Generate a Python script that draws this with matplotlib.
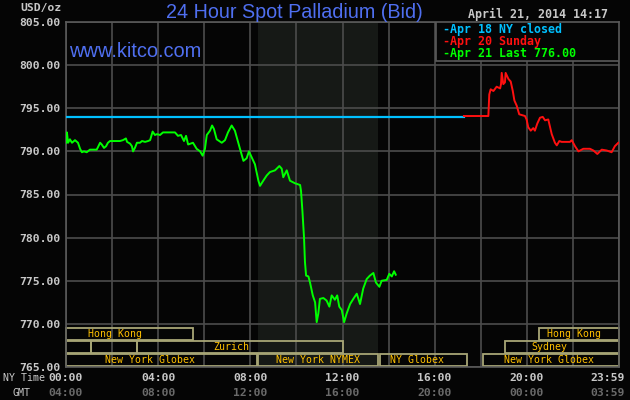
import matplotlib
matplotlib.use('Agg')
import matplotlib.pyplot as plt
import matplotlib.transforms as mtransforms
from matplotlib.patches import Rectangle

# ---------------- data ----------------
# previous close (Apr 18 NY closed)
close_value = 794.0
close_end_h = 17.27

# Apr 20 Sunday (red) : hours (NY time), price
red_h = [17.27, 18.33, 18.37, 18.43, 18.55, 18.69, 18.84, 18.88, 18.91, 18.98,
         19.05, 19.08, 19.20, 19.30, 19.39, 19.46, 19.56, 19.67, 19.92, 19.99,
         20.06, 20.17, 20.28, 20.35, 20.45, 20.57, 20.69, 20.79, 20.93, 21.08,
         21.22, 21.30, 21.41, 21.51, 21.87, 21.95, 22.09, 22.24, 22.45, 22.74,
         22.89, 23.06, 23.25, 23.47, 23.68, 23.82, 23.97]
red_v = [794.1, 794.1, 796.6, 797.2, 797.0, 797.5, 797.3, 797.8, 799.1, 797.8,
         798.0, 799.1, 798.4, 798.1, 797.0, 795.9, 795.3, 794.3, 794.1, 793.7,
         792.8, 792.4, 792.7, 792.4, 793.2, 793.9, 794.0, 793.6, 793.7, 792.0,
         791.0, 790.7, 791.2, 791.1, 791.1, 791.3, 790.6, 790.0, 790.3, 790.3,
         790.1, 789.7, 790.2, 790.1, 789.9, 790.6, 791.0]

# Apr 21 (green)
green_h = [0.01, 0.04, 0.09, 0.17, 0.26, 0.39, 0.52, 0.61, 0.69, 0.78,
           0.90, 1.04, 1.33, 1.39, 1.48, 1.55, 1.65, 1.74, 1.82, 1.91,
           2.34, 2.47, 2.60, 2.65, 2.78, 2.86, 2.91, 2.99, 3.08, 3.21,
           3.30, 3.43, 3.56, 3.65, 3.76, 3.86, 3.95, 4.08, 4.21, 4.73,
           4.86, 4.99, 5.12, 5.21, 5.30, 5.51, 5.67, 5.82, 5.93, 6.03,
           6.11, 6.25, 6.34, 6.42, 6.54, 6.76, 6.90, 7.03, 7.19, 7.33,
           7.55, 7.70, 7.84, 7.94, 8.06, 8.20, 8.35, 8.42, 8.56, 8.71,
           8.85, 9.07, 9.26, 9.36, 9.43, 9.58, 9.72, 9.94, 10.16, 10.20,
           10.26, 10.33, 10.37, 10.42, 10.52, 10.59, 10.71, 10.81, 10.88, 10.95,
           11.02, 11.17, 11.31, 11.43, 11.53, 11.67, 11.77, 11.86, 11.97, 12.07,
           12.18, 12.33, 12.47, 12.62, 12.76, 12.90, 13.05, 13.19, 13.34, 13.45,
           13.60, 13.70, 13.92, 14.03, 14.14, 14.24, 14.31]
green_v = [791.0, 792.2, 791.0, 791.4, 791.0, 791.3, 791.0, 790.3, 789.9, 790.0,
           789.9, 790.2, 790.2, 790.5, 791.0, 790.8, 790.4, 790.6, 791.0, 791.2,
           791.2, 791.3, 791.5, 791.1, 790.9, 790.6, 790.0, 790.4, 791.0, 791.0,
           791.2, 791.1, 791.2, 791.3, 792.3, 791.9, 792.0, 791.9, 792.2, 792.2,
           791.8, 791.9, 791.2, 791.8, 790.8, 791.0, 790.3, 790.0, 789.5, 790.3,
           791.9, 792.4, 793.0, 792.6, 791.4, 791.0, 791.3, 792.2, 793.0, 792.4,
           790.3, 788.9, 789.2, 790.0, 789.3, 788.5, 786.6, 786.0, 786.6, 787.2,
           787.6, 787.8, 788.3, 788.0, 787.0, 787.8, 786.6, 786.3, 786.1, 785.4,
           783.1, 780.0, 777.2, 775.6, 775.5, 774.8, 773.3, 772.5, 770.2, 771.2,
           772.9, 773.0, 772.7, 772.0, 773.3, 772.8, 773.3, 772.0, 771.6, 770.2,
           771.2, 772.3, 772.9, 773.5, 772.3, 774.1, 775.2, 775.6, 775.9, 774.8,
           774.3, 775.0, 775.1, 775.8, 775.5, 776.1, 775.7]

# NYMEX shaded period
nymex_start, nymex_end = 8.33, 13.55

# market sessions (row 0 = top)
sess_row   = [0, 0, 1, 1, 1, 1, 2, 2, 2, 2]
sess_start = [0.0, 20.54, 0.0, 1.07, 3.07, 19.05, 0.0, 8.35, 13.63, 18.08]
sess_end   = [5.52, 24.0, 1.07, 3.07, 12.01, 24.0, 8.30, 13.54, 17.39, 24.0]
sess_label = ["Hong Kong", "Hong Kong", "", "", "Zurich", "Sydney",
              "New York Globex", "New York NYMEX", "NY Globex", "New York Globex"]
sess_label_h = [2.13, 22.05, None, None, 7.16, 20.96, 3.65, 10.92, 15.22, 20.98]

y_ticks = [765, 770, 775, 780, 785, 790, 795, 800, 805]
x_ticks = [0, 4, 8, 12, 16, 20, 24]
ny_labels = ["00:00", "04:00", "08:00", "12:00", "16:00", "20:00", "23:59"]
gmt_labels = ["04:00", "08:00", "12:00", "16:00", "20:00", "00:00", "03:59"]

legend_labels = ["-Apr 18 NY closed", "-Apr 20 Sunday", "-Apr 21 Last 776.00"]
legend_colors = ["#00c0ff", "#ff1010", "#00ff00"]

# ---------------- style ----------------
W, H = 630, 400
BG = '#050505'
GRID = '#4c4c4c'
MONO = 'DejaVu Sans Mono'

fig = plt.figure(figsize=(W / 100, H / 100), dpi=100, facecolor=BG)
ax = fig.add_axes([66 / W, 33 / H, 553 / W, 345 / H], facecolor=BG)
ax.set_xlim(0, 24)
ax.set_ylim(765, 805)

def px(x, y):
    return x / W, 1 - y / H

# shading
ax.axvspan(nymex_start, nymex_end, color='#161916', zorder=0, lw=0)

# grid
ax.set_xticks(range(0, 25, 2))
ax.set_yticks(y_ticks)
ax.grid(True, color=GRID, lw=1.2, zorder=1)
ax.tick_params(length=0)
ax.set_xticklabels([])
ax.set_yticklabels([f"{v:.2f}" for v in y_ticks], family=MONO, fontweight='bold',
                   fontsize=8.2, color='#c8c8c8')
ax.tick_params(axis='y', pad=4)
for s in ax.spines.values():
    s.set_color('#5a5a5a')
    s.set_linewidth(1.2)

# legend box
ax.add_patch(Rectangle((0.669, 0.888), 0.331, 0.112, transform=ax.transAxes,
                       facecolor=BG, edgecolor='#5a5a5a', lw=1.2, zorder=3))

# lines
ax.plot([0, close_end_h], [close_value, close_value], color='#00c0ff', lw=1.6, zorder=4)
ax.plot(red_h, red_v, color='#ff1010', lw=1.4, zorder=4)
ax.plot(green_h, green_v, color='#00ff00', lw=1.4, zorder=4)

# sessions
row_bottom = [0.0774, 0.0406, 0.002]
row_height = [0.0356, 0.0339, 0.0366]
xtrans = ax.get_xaxis_transform()
for r, s0, s1, lab, lh in zip(sess_row, sess_start, sess_end, sess_label, sess_label_h):
    ax.add_patch(Rectangle((s0, row_bottom[r]), s1 - s0, row_height[r], transform=xtrans,
                           facecolor='none', edgecolor='#a8a676', lw=1.3, zorder=2,
                           clip_on=False))
    if lab:
        ax.text(lh, row_bottom[r] + row_height[r] / 2, lab, transform=xtrans,
                ha='center', va='center', family=MONO, fontsize=7.1,
                color='#ffc000', zorder=5)

# x labels
for h, l1, l2 in zip(x_ticks, ny_labels, gmt_labels):
    dx = -11 if h == 24 else 0
    t1 = mtransforms.offset_copy(xtrans, fig=fig, x=dx, y=-11, units='dots')
    t2 = mtransforms.offset_copy(xtrans, fig=fig, x=dx, y=-26, units='dots')
    ax.text(h, 0, l1, transform=t1, ha='center', va='center', family=MONO,
            fontweight='bold', fontsize=8.2, color='#c8c8c8', clip_on=False)
    ax.text(h, 0, l2, transform=t2, ha='center', va='center', family=MONO,
            fontweight='bold', fontsize=8.2, color='#6a6a6a', clip_on=False)

fig.text(*px(3, 378), "NY Time", ha='left', va='center', family=MONO,
         fontsize=7.2, color='#c8c8c8')
fig.text(*px(12, 393), "GMT", ha='left', va='center', family=MONO,
         fontsize=7.2, color='#c8c8c8')
fig.text(*px(62, 8), "USD/oz", ha='right', va='center', family=MONO,
         fontweight='bold', fontsize=8.2, color='#c8c8c8')

# titles
fig.text(*px(294.5, 17.5), "24 Hour Spot Palladium (Bid)", ha='center', va='baseline',
         family='Liberation Sans', fontsize=14.2, color='#4f6ff0')
fig.text(*px(69, 57), "www.kitco.com", ha='left', va='baseline',
         family='Liberation Sans', fontsize=14.4, color='#4f6ff0')
fig.text(*px(608, 14.5), "April 21, 2014 14:17", ha='right', va='center', family=MONO,
         fontweight='bold', fontsize=8.4, color='#c8c8c8')

for i, (lab, col) in enumerate(zip(legend_labels, legend_colors)):
    fig.text(*px(443, 29 + 12.5 * i), lab, ha='left', va='center', family=MONO,
             fontweight='bold', fontsize=8.4, color=col)

fig.savefig('out.png', dpi=100, facecolor=BG)
